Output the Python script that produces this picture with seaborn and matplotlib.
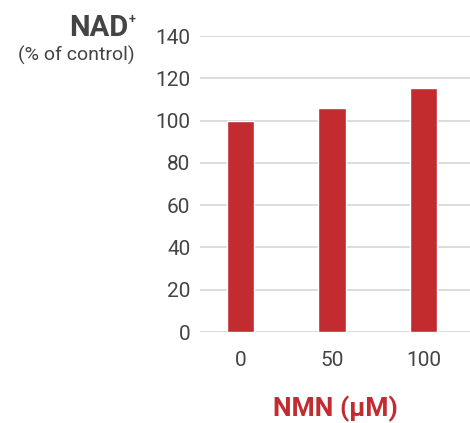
import matplotlib
matplotlib.use("Agg")
import matplotlib.pyplot as plt
import seaborn as sns
import pandas as pd

# data
doses = ["0", "50", "100"]
nad_pct = [100, 106, 115.5]

bar_color = "#C22B30"
text_color = "#444444"

sns.set_style("white")
plt.rcParams["font.family"] = ["Roboto", "DejaVu Sans"]

df = pd.DataFrame({"dose": doses, "nad": nad_pct})

fig = plt.figure(figsize=(4.70, 4.23), dpi=100)
ax = fig.add_axes([200 / 470, 91 / 423, 270 / 470, 296 / 423])

sns.barplot(data=df, x="dose", y="nad", order=doses, color=bar_color,
            width=0.3, saturation=1, ax=ax, zorder=3)

ax.set_ylim(0, 140)
ax.set_yticks(range(0, 141, 20))
ax.set_xlim(-0.44, 2.51)
ax.grid(axis="y", color="#d9d9d9", linewidth=1.3, zorder=0)
ax.grid(axis="x", visible=False)
sns.despine(ax=ax, left=True, bottom=True)
ax.tick_params(axis="y", length=0, pad=7, labelsize=15, labelcolor=text_color)
ax.tick_params(axis="x", length=0, pad=14, labelsize=15, labelcolor=text_color)
ax.set_xlabel("")
ax.set_ylabel("")

# y-axis title at the top left
fig.text(128 / 470, 1 - 28 / 423, "NAD", ha="right", va="center",
         fontsize=21, fontweight="bold", color=text_color)
fig.text(129 / 470, 1 - 20 / 423, "+", ha="left", va="center",
         fontsize=9, fontweight="bold", color=text_color)
fig.text(135 / 470, 1 - 55 / 423, "(% of control)", ha="right", va="center",
         fontsize=14, color=text_color)

# x-axis title
fig.text(335 / 470, 1 - 409 / 423, "NMN (μM)", ha="center", va="center",
         fontsize=19, fontweight="semibold", color=bar_color)

fig.savefig("out.png", dpi=100)
